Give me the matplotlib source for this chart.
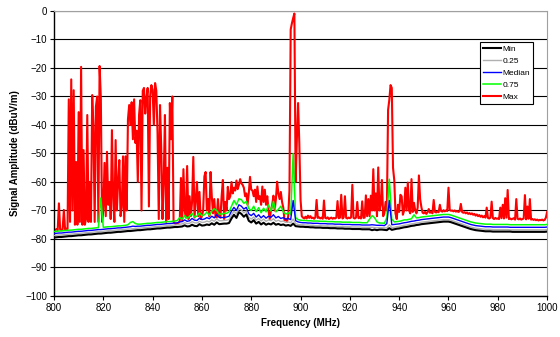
import numpy as np
import matplotlib
matplotlib.use("Agg")
import matplotlib.pyplot as plt

plt.rcParams['font.family'] = ['Liberation Sans', 'DejaVu Sans']

# frequency axes (MHz): 1 MHz steps for the percentile traces, 0.5 MHz for the max trace
freq = np.arange(800, 1001, 1.0)
freq_max = np.arange(800, 1000.5, 0.5)

sig_min = [
    -79.5, -79.4, -79.3, -79.3, -79.2, -79.1, -79.0, -79.0, -78.9, -78.8,
    -78.7, -78.7, -78.6, -78.5, -78.4, -78.4, -78.3, -78.2, -78.1, -78.1,
    -78.0, -77.9, -77.8, -77.8, -77.7, -77.6, -77.5, -77.5, -77.4, -77.3,
    -77.2, -77.2, -77.1, -77.0, -76.9, -76.9, -76.8, -76.7, -76.6, -76.6,
    -76.5, -76.4, -76.3, -76.3, -76.2, -76.1, -76.0, -76.0, -75.9, -75.8,
    -75.8, -75.7, -75.6, -75.2, -75.6, -75.5, -75.0, -75.4, -75.5, -74.8,
    -75.3, -75.2, -74.9, -75.1, -74.5, -75.0, -74.2, -74.8, -74.7, -74.6,
    -74.6, -74.4, -72.8, -71.5, -72.6, -70.6, -71.2, -72.2, -71.4, -73.6,
    -74.2, -73.4, -74.6, -74.0, -74.9, -74.3, -75.0, -74.6, -74.9, -74.3,
    -75.0, -74.7, -75.1, -74.9, -75.3, -75.1, -75.4, -74.6, -75.5, -75.6,
    -75.7, -75.7, -75.8, -75.8, -75.9, -75.9, -76.0, -76.0, -76.0, -76.1,
    -76.1, -76.1, -76.2, -76.2, -76.2, -76.3, -76.3, -76.3, -76.4, -76.4,
    -76.4, -76.5, -76.5, -76.5, -76.5, -76.6, -76.6, -76.6, -76.6, -76.9,
    -76.7, -76.9, -76.7, -76.7, -76.8, -76.9, -76.2, -76.8, -76.6, -76.4,
    -76.3, -76.1, -75.9, -75.8, -75.6, -75.4, -75.3, -75.1, -75.0, -74.8,
    -74.7, -74.6, -74.5, -74.4, -74.3, -74.2, -74.1, -74.0, -73.9, -73.9,
    -73.9, -74.1, -74.4, -74.7, -75.0, -75.3, -75.6, -75.9, -76.2, -76.5,
    -76.7, -76.9, -77.0, -77.1, -77.2, -77.3, -77.3, -77.3, -77.4, -77.4,
    -77.4, -77.4, -77.4, -77.4, -77.4, -77.4, -77.5, -77.5, -77.5, -77.5,
    -77.5, -77.5, -77.5, -77.5, -77.5, -77.5, -77.5, -77.5, -77.5, -77.5,
    -77.4,
]

sig_q25 = [
    -78.8, -78.7, -78.6, -78.6, -78.5, -78.4, -78.3, -78.3, -78.2, -78.1,
    -78.0, -78.0, -77.9, -77.8, -77.7, -77.7, -77.6, -77.5, -77.4, -77.4,
    -77.3, -77.2, -77.1, -77.1, -77.0, -76.9, -76.8, -76.8, -76.7, -76.6,
    -76.5, -76.5, -76.4, -76.3, -76.2, -76.2, -76.1, -76.0, -75.9, -75.9,
    -75.8, -75.7, -75.6, -75.6, -75.5, -75.4, -75.3, -75.3, -75.2, -75.1,
    -75.0, -74.8, -74.7, -74.3, -74.6, -74.5, -73.9, -74.3, -74.4, -73.8,
    -74.2, -74.1, -73.7, -74.0, -73.3, -73.8, -72.9, -73.6, -73.6, -73.5,
    -73.4, -73.2, -71.5, -70.2, -71.2, -69.3, -69.8, -70.8, -70.2, -72.4,
    -73.0, -72.3, -73.4, -72.8, -73.7, -73.0, -73.8, -73.3, -73.6, -72.9,
    -73.8, -73.4, -73.9, -73.7, -74.2, -74.0, -74.3, -73.0, -74.6, -74.9,
    -75.0, -75.0, -75.1, -75.1, -75.2, -75.2, -75.3, -75.3, -75.3, -75.4,
    -75.4, -75.4, -75.5, -75.5, -75.5, -75.6, -75.6, -75.6, -75.7, -75.7,
    -75.7, -75.8, -75.8, -75.8, -75.8, -75.9, -75.9, -75.9, -75.9, -75.9,
    -76.0, -76.1, -76.0, -76.0, -76.1, -76.1, -75.0, -76.0, -75.9, -75.7,
    -75.6, -75.4, -75.2, -75.1, -74.9, -74.7, -74.6, -74.4, -74.3, -74.1,
    -74.0, -73.9, -73.8, -73.7, -73.6, -73.5, -73.4, -73.3, -73.2, -73.2,
    -73.2, -73.4, -73.7, -74.0, -74.3, -74.6, -74.9, -75.2, -75.5, -75.8,
    -76.0, -76.2, -76.3, -76.4, -76.5, -76.6, -76.6, -76.6, -76.7, -76.7,
    -76.7, -76.7, -76.7, -76.7, -76.7, -76.8, -76.8, -76.8, -76.8, -76.8,
    -76.8, -76.8, -76.8, -76.8, -76.8, -76.8, -76.8, -76.8, -76.8, -76.8,
    -76.7,
]

sig_median = [
    -78.1, -78.0, -77.9, -77.9, -77.8, -77.7, -77.6, -77.6, -77.5, -77.4,
    -77.3, -77.3, -77.2, -77.1, -77.0, -77.0, -76.9, -76.8, -76.7, -76.7,
    -76.6, -76.5, -76.4, -76.4, -76.3, -76.2, -76.1, -76.1, -76.0, -75.9,
    -75.8, -75.7, -75.5, -75.6, -75.5, -75.5, -75.4, -75.3, -75.2, -75.2,
    -75.1, -75.0, -74.9, -74.9, -74.8, -74.7, -74.6, -74.6, -74.5, -74.4,
    -74.3, -74.0, -73.9, -73.3, -73.8, -73.6, -72.8, -73.4, -73.5, -72.7,
    -73.2, -73.0, -72.5, -72.9, -72.0, -72.6, -71.5, -72.4, -72.5, -72.4,
    -72.3, -72.0, -70.2, -68.9, -70.0, -68.0, -68.5, -69.5, -68.9, -71.2,
    -71.8, -71.0, -72.3, -71.5, -72.6, -71.8, -72.7, -72.0, -72.4, -71.5,
    -72.6, -72.1, -72.8, -72.5, -73.1, -72.8, -73.2, -66.5, -73.6, -74.0,
    -74.2, -74.3, -74.3, -74.4, -74.4, -74.5, -74.5, -74.5, -74.6, -74.6,
    -74.6, -74.7, -74.7, -74.7, -74.8, -74.8, -74.8, -74.9, -74.9, -74.9,
    -74.9, -75.0, -75.0, -75.0, -75.0, -75.1, -75.1, -75.1, -75.1, -75.0,
    -75.1, -75.2, -75.2, -75.2, -75.3, -74.6, -66.5, -75.0, -74.9, -74.8,
    -74.7, -74.5, -74.3, -74.2, -74.0, -73.8, -73.7, -73.5, -73.4, -73.2,
    -73.1, -73.0, -72.9, -72.8, -72.7, -72.6, -72.5, -72.4, -72.3, -72.3,
    -72.3, -72.5, -72.8, -73.1, -73.4, -73.7, -74.0, -74.3, -74.6, -74.9,
    -75.1, -75.3, -75.4, -75.5, -75.6, -75.7, -75.7, -75.7, -75.8, -75.8,
    -75.8, -75.8, -75.8, -75.8, -75.8, -75.9, -75.9, -75.9, -75.9, -75.9,
    -75.9, -75.9, -75.9, -75.9, -75.9, -75.9, -75.9, -75.9, -75.9, -75.9,
    -75.8,
]

sig_q75 = [
    -77.4, -77.3, -77.2, -77.2, -77.1, -77.0, -76.9, -76.9, -76.8, -76.7,
    -76.6, -76.6, -76.5, -76.4, -76.3, -76.3, -76.2, -76.1, -76.0, -65.6,
    -75.9, -75.8, -75.7, -75.7, -75.6, -75.5, -75.4, -75.4, -75.3, -75.2,
    -75.0, -74.2, -73.9, -74.6, -74.8, -74.8, -74.7, -74.6, -74.5, -74.5,
    -74.4, -74.3, -74.2, -74.2, -74.1, -74.0, -73.9, -73.9, -73.8, -73.7,
    -73.5, -72.5, -73.0, -71.8, -72.8, -72.0, -71.0, -72.3, -72.0, -70.8,
    -71.8, -71.5, -70.6, -71.7, -70.2, -69.4, -70.0, -71.2, -71.3, -71.0,
    -71.0, -70.5, -68.5, -66.5, -68.0, -65.9, -66.2, -67.5, -66.8, -69.3,
    -70.0, -68.5, -70.4, -69.0, -70.8, -69.2, -70.5, -68.0, -70.2, -66.8,
    -70.5, -69.6, -68.5, -70.4, -71.3, -70.8, -71.5, -50.0, -72.5, -73.2,
    -73.4, -73.5, -73.5, -73.6, -73.6, -73.7, -73.7, -73.7, -73.8, -73.8,
    -73.8, -73.9, -73.9, -73.9, -74.0, -74.0, -74.0, -74.1, -74.1, -74.1,
    -74.1, -74.2, -74.2, -74.2, -74.2, -74.3, -74.3, -74.3, -73.0, -71.8,
    -72.5, -74.0, -74.4, -74.4, -74.5, -72.5, -59.0, -73.0, -74.0, -73.9,
    -73.8, -73.6, -73.3, -73.3, -73.1, -72.9, -71.5, -72.6, -72.5, -72.3,
    -72.2, -72.1, -72.0, -71.9, -71.8, -71.7, -71.6, -71.5, -71.4, -71.4,
    -71.4, -71.6, -71.9, -72.2, -72.5, -72.8, -73.1, -73.4, -73.7, -74.0,
    -74.2, -74.4, -74.5, -74.6, -74.7, -74.8, -74.8, -74.8, -74.9, -74.9,
    -74.9, -74.9, -74.9, -74.9, -74.9, -75.0, -75.0, -75.0, -75.0, -75.0,
    -75.0, -75.0, -75.0, -75.0, -75.0, -75.0, -75.0, -75.0, -75.0, -75.0,
    -74.9,
]

sig_max = [
    -76.5, -76.8, -76.6, -76.9, -67.5, -76.7, -76.8, -76.6, -69.8, -76.7,
    -76.4, -76.5, -31.0, -74.0, -24.0, -70.0, -27.8, -75.0, -53.0, -75.0,
    -35.5, -74.0, -19.6, -75.0, -48.8, -75.0, -73.0, -36.5, -74.0, -60.0,
    -74.0, -29.5, -40.6, -74.0, -33.6, -30.0, -74.0, -19.3, -30.5, -74.0,
    -70.0, -53.3, -72.0, -49.4, -68.0, -60.0, -73.0, -41.8, -66.0, -74.0,
    -45.3, -70.0, -60.0, -52.3, -72.0, -68.8, -51.0, -74.0, -51.0, -70.0,
    -38.0, -33.0, -40.0, -32.0, -45.0, -31.0, -46.3, -42.0, -60.0, -36.5,
    -31.3, -70.0, -28.0, -27.0, -36.0, -30.5, -27.0, -68.6, -30.0, -26.0,
    -27.7, -40.0, -25.3, -28.0, -42.8, -73.0, -33.0, -48.0, -73.0, -60.0,
    -36.5, -74.0, -55.0, -73.0, -32.3, -45.0, -30.0, -74.0, -74.5, -74.8,
    -74.6, -74.4, -73.8, -58.6, -73.5, -55.5, -70.0, -72.5, -54.4, -73.0,
    -65.0, -72.0, -67.0, -51.2, -72.5, -66.0, -60.0, -72.0, -63.5, -73.0,
    -72.0, -70.0, -58.0, -56.5, -70.0, -66.0, -72.0, -56.5, -65.0, -71.0,
    -66.0, -72.0, -72.5, -66.0, -72.0, -72.5, -65.0, -59.3, -73.0, -67.0,
    -70.0, -61.7, -66.0, -65.0, -60.0, -64.0, -62.0, -63.0, -59.5, -62.5,
    -61.0, -59.0, -60.5, -61.0, -62.0, -65.0, -64.0, -68.0, -64.0, -58.2,
    -62.7, -63.0, -65.0, -62.7, -67.0, -61.6, -66.0, -65.0, -68.0, -61.6,
    -67.0, -62.7, -68.0, -65.0, -70.0, -73.0, -70.0, -68.0, -64.8, -70.0,
    -66.0, -59.9, -64.0, -66.0, -63.5, -67.0, -69.0, -73.5, -73.0, -74.0,
    -72.0, -63.0, -6.5, -4.3, -2.5, -0.9, -60.0, -45.0, -32.3, -46.5,
    -66.3, -72.0, -72.5, -72.8, -72.2, -72.8, -71.8, -72.6, -72.0, -72.7,
    -72.5, -72.9, -72.4, -66.3, -72.6, -72.4, -72.8, -72.5, -72.9, -66.5,
    -72.6, -72.8, -72.4, -73.0, -72.7, -72.5, -72.9, -72.6, -72.8, -72.5,
    -66.7, -72.7, -72.5, -64.5, -72.8, -72.4, -65.0, -72.6, -72.8, -72.5,
    -72.7, -72.4, -61.0, -72.6, -72.8, -72.5, -67.0, -72.7, -72.4, -72.8,
    -66.8, -72.6, -72.5, -64.7, -72.0, -66.0, -72.0, -64.8, -70.0, -55.5,
    -70.0, -64.0, -72.0, -54.9, -70.0, -68.0, -59.3, -72.0, -71.0, -67.0,
    -70.0, -34.7, -31.2, -26.0, -27.0, -55.0, -59.3, -71.0, -73.0, -68.0,
    -70.5, -64.5, -65.0, -71.5, -70.0, -62.0, -70.0, -60.2, -70.0, -71.0,
    -59.0, -70.5, -67.3, -70.0, -71.0, -69.0, -57.7, -66.0, -68.8, -70.8,
    -71.0, -70.5, -71.2, -70.6, -69.5, -70.8, -70.4, -71.0, -66.3, -70.5,
    -70.7, -70.3, -70.6, -68.0, -70.2, -70.4, -69.9, -70.3, -70.0, -70.2,
    -62.0, -69.8, -70.1, -70.0, -70.3, -70.0, -70.4, -70.2, -70.5, -70.3,
    -67.7, -70.5, -70.8, -70.6, -71.0, -70.7, -71.2, -70.9, -71.3, -71.0,
    -71.5, -71.2, -71.8, -71.4, -72.0, -71.6, -72.2, -71.8, -72.4, -72.0,
    -72.5, -69.0, -72.6, -72.8, -72.5, -66.9, -72.7, -73.0, -72.6, -72.9,
    -72.8, -73.0, -69.0, -72.7, -68.0, -72.8, -65.7, -72.5, -62.8, -73.0,
    -72.8, -73.1, -72.9, -72.7, -73.2, -66.0, -72.9, -73.1, -72.8, -73.2,
    -73.0, -72.8, -64.6, -73.1, -68.6, -72.9, -66.0, -73.2, -73.0, -73.3,
    -73.1, -73.4, -73.2, -73.5, -73.3, -73.4, -73.2, -73.5, -73.3, -72.5,
    -70.5,
]

fig = plt.figure(figsize=(5.6, 3.37), dpi=100)
ax = fig.add_axes([0.0964, 0.1217, 0.8806, 0.8457])

ax.plot(freq_max, sig_max, color='#ff0000', lw=1.5, zorder=2, label='Max')
ax.plot(freq, sig_q75, color='#00ff00', lw=1.1, zorder=3, label='0.75')
ax.plot(freq, sig_median, color='#0000ff', lw=1.0, zorder=4, label='Median')
ax.plot(freq, sig_q25, color='#b0b0b0', lw=1.0, zorder=5, label='0.25')
ax.plot(freq, sig_min, color='black', lw=1.5, zorder=6, label='Min')

ax.set_xlim(800, 1000)
ax.set_ylim(-100, 0)
ax.set_xticks(np.arange(800, 1001, 20))
ax.set_yticks(np.arange(-100, 1, 10))
ax.yaxis.grid(True, color='black', lw=0.8)
ax.set_axisbelow(True)
ax.tick_params(labelsize=7, length=3, width=0.8, direction='out', pad=2)

ax.spines['top'].set_color('#a0a0a0')
ax.spines['right'].set_color('#a0a0a0')
ax.spines['left'].set_linewidth(1.0)
ax.spines['bottom'].set_linewidth(1.0)

ax.set_xlabel('Frequency (MHz)', fontsize=7, fontweight='bold', labelpad=4)
ax.set_ylabel('Signal Amplitude (dBuV/m)', fontsize=7, fontweight='bold', labelpad=4)

handles, labels = ax.get_legend_handles_labels()
leg = ax.legend(handles[::-1], labels[::-1], loc='upper right',
                bbox_to_anchor=(0.972, 0.89), fontsize=6, frameon=True,
                fancybox=False, edgecolor='black', framealpha=1,
                handlelength=2.2, handletextpad=0.2, borderpad=0.35,
                labelspacing=0.5, borderaxespad=0)
leg.get_frame().set_linewidth(0.8)

fig.savefig('out.png', dpi=100)
